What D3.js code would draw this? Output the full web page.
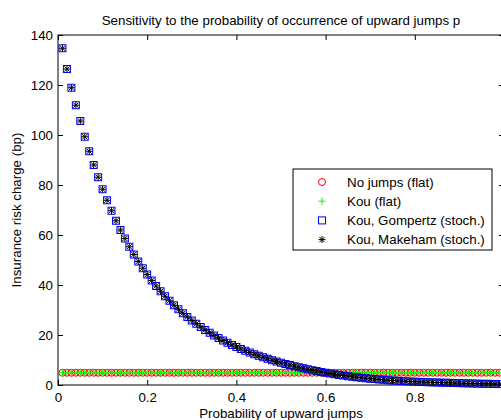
<!DOCTYPE html>
<html>
<head>
<meta charset="utf-8">
<script src="https://cdn.jsdelivr.net/npm/d3@7"></script>
<style>
  body { margin: 0; background: #fff; }
  svg { display: block; font-family: "Liberation Sans", Arial, sans-serif; }
</style>
</head>
<body>
<div id="chart"></div>
<script>
// Probability of upward jumps p (x grid)
const pValues = [
  0.01,0.02,0.03,0.04,0.05,0.06,0.07,0.08,0.09,0.10,
  0.11,0.12,0.13,0.14,0.15,0.16,0.17,0.18,0.19,0.20,
  0.21,0.22,0.23,0.24,0.25,0.26,0.27,0.28,0.29,0.30,
  0.31,0.32,0.33,0.34,0.35,0.36,0.37,0.38,0.39,0.40,
  0.41,0.42,0.43,0.44,0.45,0.46,0.47,0.48,0.49,0.50,
  0.51,0.52,0.53,0.54,0.55,0.56,0.57,0.58,0.59,0.60,
  0.61,0.62,0.63,0.64,0.65,0.66,0.67,0.68,0.69,0.70,
  0.71,0.72,0.73,0.74,0.75,0.76,0.77,0.78,0.79,0.80,
  0.81,0.82,0.83,0.84,0.85,0.86,0.87,0.88,0.89,0.90,
  0.91,0.92,0.93,0.94,0.95,0.96,0.97,0.98,0.99
];

// Insurance risk charge (bp), one value per p
const noJumpsFlat = [
  4.9,4.9,4.9,4.9,4.9,4.9,4.9,4.9,4.9,4.9,
  4.9,4.9,4.9,4.9,4.9,4.9,4.9,4.9,4.9,4.9,
  4.9,4.9,4.9,4.9,4.9,4.9,4.9,4.9,4.9,4.9,
  4.9,4.9,4.9,4.9,4.9,4.9,4.9,4.9,4.9,4.9,
  4.9,4.9,4.9,4.9,4.9,4.9,4.9,4.9,4.9,4.9,
  4.9,4.9,4.9,4.9,4.9,4.9,4.9,4.9,4.9,4.9,
  4.9,4.9,4.9,4.9,4.9,4.9,4.9,4.9,4.9,4.9,
  4.9,4.9,4.9,4.9,4.9,4.9,4.9,4.9,4.9,4.9,
  4.9,4.9,4.9,4.9,4.9,4.9,4.9,4.9,4.9,4.9,
  4.9,4.9,4.9,4.9,4.9,4.9,4.9,4.9,4.9
];

const kouFlat = [
  4.9,4.9,4.9,4.9,4.9,4.9,4.9,4.9,4.9,4.9,
  4.9,4.9,4.9,4.9,4.9,4.9,4.9,4.9,4.9,4.9,
  4.9,4.9,4.9,4.9,4.9,4.9,4.9,4.9,4.9,4.9,
  4.9,4.9,4.9,4.9,4.9,4.9,4.9,4.9,4.9,4.9,
  4.9,4.9,4.9,4.9,4.9,4.9,4.9,4.9,4.9,4.9,
  4.9,4.9,4.9,4.9,4.9,4.9,4.9,4.9,4.9,4.9,
  4.9,4.9,4.9,4.9,4.9,4.9,4.9,4.9,4.9,4.9,
  4.9,4.9,4.9,4.9,4.9,4.9,4.9,4.9,4.9,4.9,
  4.9,4.9,4.9,4.9,4.9,4.9,4.9,4.9,4.9,4.9,
  4.9,4.9,4.9,4.9,4.9,4.9,4.9,4.9,4.9
];

const kouGompertz = [
  134.7,126.4,118.9,111.9,105.6,99.3,93.5,88.0,83.1,78.3,
  73.9,69.7,65.7,62.0,58.6,55.3,52.2,49.4,46.7,44.2,
  41.8,39.6,37.5,35.5,33.7,31.9,30.3,28.7,27.2,25.8,
  24.5,23.2,22.0,20.9,19.8,18.8,17.8,16.9,16.0,15.2,
  14.4,13.7,13.0,12.3,11.7,11.1,10.5,9.9,9.4,8.9,
  8.4,8.0,7.5,7.1,6.7,6.3,5.9,5.6,5.2,4.9,
  4.6,4.3,4.0,3.8,3.5,3.3,3.1,2.9,2.7,2.5,
  2.4,2.2,2.1,1.9,1.8,1.7,1.6,1.5,1.4,1.3,
  1.25,1.2,1.1,1.05,1.0,0.95,0.9,0.85,0.8,0.75,
  0.7,0.65,0.6,0.55,0.5,0.48,0.45,0.4,0.37
];

const kouMakeham = [
  134.7,126.4,118.9,111.9,105.6,99.3,93.5,88.0,83.1,78.3,
  73.9,69.7,65.7,62.0,58.6,55.3,52.2,49.4,46.7,44.2,
  41.8,39.6,37.5,35.5,33.7,31.9,30.3,28.7,27.2,25.8,
  24.5,23.2,22.0,20.9,19.8,18.8,17.8,16.9,16.0,15.2,
  14.4,13.7,13.0,12.3,11.7,11.1,10.5,9.9,9.4,8.9,
  8.4,8.0,7.5,7.1,6.7,6.3,5.9,5.6,5.2,4.9,
  4.6,4.3,4.0,3.8,3.5,3.3,3.1,2.9,2.7,2.5,
  2.4,2.2,2.1,1.9,1.8,1.7,1.6,1.5,1.4,1.3,
  1.25,1.2,1.1,1.05,1.0,0.95,0.9,0.85,0.8,0.75,
  0.7,0.65,0.6,0.55,0.5,0.48,0.45,0.4,0.37
];

// Tick values (the 1.0 tick falls just outside the window in the original)
const xTicks = [0, 0.2, 0.4, 0.6, 0.8];
const yTicks = [0, 20, 40, 60, 80, 100, 120, 140];

const seriesNames = ["No jumps (flat)", "Kou (flat)", "Kou, Gompertz (stoch.)", "Kou, Makeham (stoch.)"];

// Layout: axes box runs a little past the right edge of the window, like the original
const W = 501, H = 420;
const plotLeft = 58, plotTop = 35, plotRight = 504, plotBottom = 385;
const fontSize = "13.33px";

const svg = d3.select("#chart").append("svg")
  .attr("width", W)
  .attr("height", H)
  .style("overflow", "hidden");

const x = d3.scaleLinear().domain([0, 1]).range([plotLeft, plotRight]);
const y = d3.scaleLinear().domain([0, 140]).range([plotBottom, plotTop]);

// Axes (ticks point inward, MATLAB style)
svg.append("g")
  .attr("transform", `translate(0,${plotBottom})`)
  .call(d3.axisBottom(x).tickValues(xTicks).tickFormat(d3.format("~g")).tickSize(-5).tickPadding(8))
  .call(g => g.select(".domain").remove());

svg.append("g")
  .attr("transform", `translate(0,${plotTop})`)
  .call(d3.axisTop(x).tickValues(xTicks).tickFormat("").tickSize(-5))
  .call(g => g.select(".domain").remove());

svg.append("g")
  .attr("transform", `translate(${plotLeft},0)`)
  .call(d3.axisLeft(y).tickValues(yTicks).tickSize(-5).tickPadding(5))
  .call(g => g.select(".domain").remove());

svg.append("g")
  .attr("transform", `translate(${plotRight},0)`)
  .call(d3.axisRight(y).tickValues(yTicks).tickFormat("").tickSize(-5))
  .call(g => g.select(".domain").remove());

svg.selectAll(".tick text").style("font-size", fontSize).attr("fill", "#000");
svg.selectAll(".tick line").attr("stroke", "#000");

svg.append("rect")
  .attr("x", plotLeft).attr("y", plotTop)
  .attr("width", plotRight - plotLeft).attr("height", plotBottom - plotTop)
  .attr("fill", "none").attr("stroke", "#000").attr("stroke-width", 1);

// Marker shapes
const r = 3.5;
function drawMarker(g, kind) {
  if (kind === 0) {
    g.append("circle").attr("r", r).attr("fill", "none").attr("stroke", "#ff0000");
  } else if (kind === 1) {
    g.append("path").attr("d", `M${-r},0H${r}M0,${-r}V${r}`).attr("stroke", "#00ff00").attr("fill", "none");
  } else if (kind === 2) {
    g.append("rect").attr("x", -r).attr("y", -r).attr("width", 2 * r).attr("height", 2 * r)
      .attr("fill", "none").attr("stroke", "#0000ff");
  } else {
    const d = r * 0.75;
    g.append("path")
      .attr("d", `M${-r},0H${r}M0,${-r}V${r}M${-d},${-d}L${d},${d}M${-d},${d}L${d},${-d}`)
      .attr("stroke", "#000").attr("fill", "none");
  }
}

const allSeries = [noJumpsFlat, kouFlat, kouGompertz, kouMakeham];

allSeries.forEach((vals, k) => {
  svg.append("g").selectAll("g")
    .data(pValues.map((p, i) => ({ p, v: vals[i] })))
    .join("g")
    .attr("transform", d => `translate(${x(d.p)},${y(d.v)})`)
    .each(function() { drawMarker(d3.select(this), k); });
});

// Title and axis labels
svg.append("text")
  .attr("x", (plotLeft + plotRight) / 2)
  .attr("y", 25)
  .attr("text-anchor", "middle")
  .style("font-size", fontSize)
  .text("Sensitivity to the probability of occurrence of upward jumps p");

svg.append("text")
  .attr("x", (plotLeft + plotRight) / 2)
  .attr("y", 418)
  .attr("text-anchor", "middle")
  .style("font-size", fontSize)
  .text("Probability of upward jumps");

svg.append("text")
  .attr("transform", `translate(21,${(plotTop + plotBottom) / 2}) rotate(-90)`)
  .attr("text-anchor", "middle")
  .style("font-size", fontSize)
  .text("Insurance risk charge (bp)");

// Legend
const legend = svg.append("g").attr("transform", "translate(293,169)");

legend.append("rect")
  .attr("width", 199).attr("height", 81)
  .attr("fill", "#fff").attr("stroke", "#000");

seriesNames.forEach((name, k) => {
  const row = legend.append("g").attr("transform", `translate(29,${13 + k * 19.2})`);
  drawMarker(row, k);
  row.append("text")
    .attr("x", 25)
    .attr("y", 4.5)
    .style("font-size", fontSize)
    .text(name);
});
</script>
</body>
</html>
